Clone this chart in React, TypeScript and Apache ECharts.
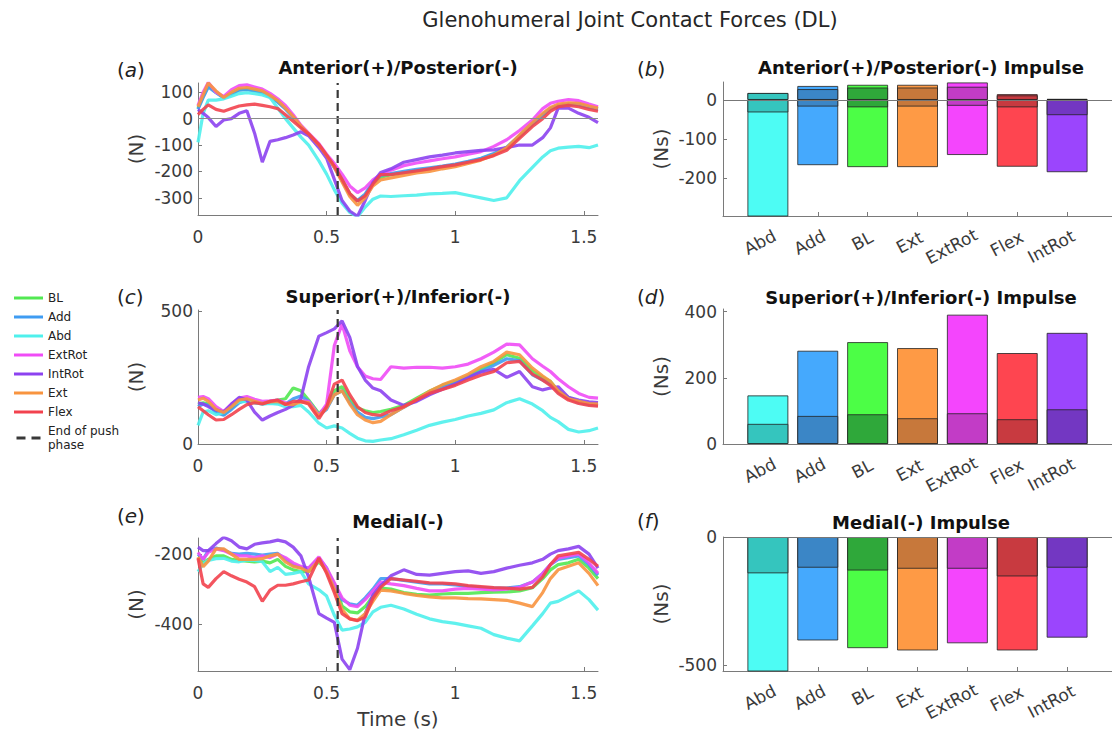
import React, { useEffect, useRef } from "react";
import * as echarts from "echarts";

// ---------- data ----------
const TIME = [0, 0.02, 0.04, 0.07, 0.1, 0.13, 0.16, 0.19, 0.22, 0.25, 0.28, 0.31, 0.34, 0.37, 0.4, 0.43, 0.47, 0.5, 0.53, 0.56, 0.59, 0.62, 0.65, 0.68, 0.71, 0.75, 0.8, 0.85, 0.9, 0.95, 1.0, 1.05, 1.1, 1.15, 1.2, 1.25, 1.3, 1.34, 1.37, 1.4, 1.44, 1.48, 1.52, 1.555];

const SERIES_NAMES = ["BL", "Add", "Abd", "ExtRot", "IntRot", "Ext", "Flex"];
const PUSH_LABEL = "End of push phase";
const PUSH_END = 0.543;

// (a) Anterior(+)/Posterior(-) force, N
const AP_BL = [40, 85, 125, 100, 80, 95, 110, 112, 108, 100, 85, 65, 40, 8, -28, -58, -100, -140, -182, -232, -285, -312, -290, -245, -222, -212, -205, -197, -190, -183, -175, -165, -152, -135, -112, -68, -22, 15, 38, 50, 56, 55, 45, 38];
const AP_ADD = [35, 80, 120, 98, 78, 92, 108, 110, 105, 98, 82, 62, 36, 5, -30, -60, -102, -142, -185, -235, -288, -310, -285, -240, -215, -208, -200, -192, -186, -180, -172, -162, -150, -132, -108, -65, -20, 15, 38, 48, 54, 52, 42, 35];
const AP_ABD = [-90, 20, 70, 70, 75, 85, 95, 98, 95, 90, 80, 40, 0, -35, -70, -100, -160, -210, -270, -320, -355, -372, -335, -305, -293, -295, -292, -290, -285, -283, -280, -290, -300, -310, -300, -235, -185, -145, -122, -112, -108, -105, -110, -100];
const AP_EXTROT = [50, 100, 137, 100, 84, 110, 125, 128, 120, 112, 96, 75, 50, 15, -25, -55, -95, -135, -170, -210, -255, -280, -262, -232, -212, -195, -178, -168, -160, -152, -145, -135, -125, -105, -80, -45, -5, 38, 58, 66, 72, 68, 55, 45];
const AP_INTROT = [35, 20, 4, -30, -5, 0, 20, 30, -55, -165, -86, -80, -72, -62, -50, -65, -110, -150, -230, -310, -350, -370, -310, -242, -204, -190, -165, -155, -145, -138, -130, -125, -120, -118, -110, -100, -100, -72, -35, 40, 40, 20, 5, -15];
const AP_EXT = [45, 90, 135, 105, 80, 100, 115, 118, 112, 105, 88, 68, 40, 8, -28, -58, -100, -140, -185, -240, -295, -328, -300, -255, -232, -225, -215, -206, -200, -190, -182, -170, -157, -138, -110, -62, -15, 20, 42, 55, 60, 58, 48, 40];
const AP_FLEX = [15, 35, 52, 35, 28, 38, 48, 52, 55, 50, 45, 38, 15, -10, -35, -58, -98, -138, -180, -230, -283, -312, -292, -248, -212, -212, -205, -198, -190, -182, -175, -165, -155, -140, -120, -75, -30, 0, 28, 45, 50, 45, 35, 28];

// (c) Superior(+)/Inferior(-) force, N
const SI_BL = [150, 155, 150, 125, 110, 135, 160, 165, 158, 155, 160, 165, 170, 210, 200, 165, 115, 140, 200, 215, 170, 135, 125, 118, 122, 130, 145, 172, 198, 220, 235, 255, 280, 305, 335, 322, 275, 250, 235, 200, 175, 160, 150, 150];
const SI_ADD = [140, 150, 145, 118, 108, 130, 155, 165, 155, 150, 155, 155, 150, 170, 180, 160, 108, 130, 185, 200, 155, 120, 100, 95, 102, 110, 138, 165, 192, 212, 228, 250, 272, 295, 320, 312, 260, 240, 225, 195, 170, 155, 148, 145];
const SI_ABD = [70, 120, 125, 110, 118, 145, 158, 160, 155, 150, 152, 150, 140, 140, 145, 120, 78, 60, 68, 60, 40, 22, 12, 10, 15, 20, 35, 52, 70, 82, 92, 105, 115, 128, 155, 170, 150, 125, 100, 84, 55, 45, 50, 60];
const SI_EXTROT = [175, 178, 170, 140, 122, 150, 172, 178, 168, 160, 162, 165, 155, 150, 162, 160, 108, 150, 370, 450, 350, 290, 255, 245, 242, 290, 285, 288, 288, 285, 290, 300, 320, 345, 375, 372, 320, 292, 272, 245, 215, 190, 175, 172];
const SI_INTROT = [155, 150, 140, 128, 120, 150, 175, 165, 120, 90, 105, 118, 130, 145, 170, 290, 405, 418, 432, 462, 400, 291, 240, 210, 200, 165, 145, 160, 185, 205, 225, 250, 270, 280, 250, 272, 215, 203, 210, 215, 175, 165, 158, 155];
const SI_EXT = [165, 172, 160, 130, 118, 140, 165, 170, 160, 152, 158, 160, 150, 148, 158, 155, 105, 135, 185, 200, 150, 110, 90, 80, 85, 110, 138, 168, 198, 222, 240, 262, 290, 310, 345, 335, 285, 255, 235, 200, 170, 160, 152, 150];
const SI_FLEX = [140, 125, 110, 90, 92, 110, 130, 148, 155, 150, 160, 165, 148, 160, 160, 150, 95, 140, 225, 240, 185, 140, 118, 110, 108, 125, 140, 165, 190, 205, 220, 240, 258, 272, 305, 310, 262, 240, 220, 190, 165, 152, 145, 142];

// (e) Medial(-) force, N
const ML_BL = [-210, -225, -215, -205, -205, -215, -218, -220, -222, -220, -225, -215, -235, -245, -250, -250, -222, -245, -285, -348, -365, -368, -350, -320, -297, -300, -310, -315, -317, -314, -312, -312, -310, -309, -308, -305, -296, -270, -245, -230, -225, -215, -240, -270];
const ML_ADD = [-200, -215, -190, -183, -188, -198, -200, -198, -200, -203, -200, -198, -215, -232, -238, -240, -212, -240, -292, -330, -342, -346, -325, -300, -270, -270, -275, -280, -285, -285, -288, -292, -295, -297, -297, -293, -280, -255, -230, -215, -210, -205, -230, -260];
const ML_ABD = [-250, -228, -218, -213, -212, -220, -222, -217, -218, -222, -250, -238, -258, -255, -250, -285, -302, -320, -375, -417, -414, -408, -395, -365, -352, -346, -357, -372, -385, -393, -398, -405, -412, -430, -440, -448, -405, -370, -340, -335, -320, -305, -330, -360];
const ML_EXTROT = [-195, -215, -195, -185, -190, -200, -205, -205, -210, -205, -210, -200, -210, -225, -235, -240, -208, -240, -282, -325, -346, -350, -330, -305, -280, -285, -290, -298, -305, -305, -300, -298, -300, -302, -300, -295, -280, -255, -230, -212, -205, -200, -225, -255];
const ML_INTROT = [-180, -190, -190, -170, -152, -162, -180, -185, -172, -168, -165, -160, -165, -180, -205, -265, -370, -383, -395, -500, -530, -469, -370, -317, -290, -262, -245, -258, -260, -255, -250, -248, -255, -250, -240, -232, -225, -215, -200, -190, -185, -178, -200, -240];
const ML_EXT = [-208, -236, -220, -185, -185, -200, -215, -215, -215, -213, -205, -200, -222, -235, -240, -250, -218, -250, -300, -358, -385, -389, -370, -335, -303, -305, -312, -318, -322, -325, -325, -327, -328, -330, -332, -340, -350, -310, -270, -245, -235, -225, -255, -290];
const ML_FLEX = [-212, -285, -295, -270, -250, -262, -272, -280, -293, -335, -303, -289, -289, -285, -279, -274, -211, -255, -310, -370, -385, -390, -380, -326, -295, -270, -274, -278, -282, -283, -285, -290, -293, -296, -297, -300, -295, -265, -230, -205, -200, -195, -215, -235];

// impulse bars, Ns
const BAR_CATS = ["Abd", "Add", "BL", "Ext", "ExtRot", "Flex", "IntRot"];
const AP_TOTAL_POS = [18, 36, 39, 39, 45, 15, 3];
const AP_TOTAL_NEG = [-320, -167, -172, -172, -141, -171, -185];
const AP_PUSH_POS = [18, 28, 32, 32, 34, 12, 2];
const AP_PUSH_NEG = [-32, -17, -19, -17, -15, -19, -39];
const SI_TOTAL = [147, 282, 308, 290, 391, 275, 336];
const SI_PUSH = [61, 85, 90, 78, 93, 75, 105];
const ML_TOTAL = [-540, -404, -434, -443, -415, -443, -393];
const ML_PUSH = [-142, -120, -131, -124, -124, -154, -120];

// tick labels
const TIME_TICKS = [0, 0.5, 1, 1.5];
const AP_TICKS = [-300, -200, -100, 0, 100];
const SI_TICKS = [0, 500];
const ML_TICKS = [-400, -200];
const AP_IMP_TICKS = [-200, -100, 0];
const SI_IMP_TICKS = [0, 200, 400];
const ML_IMP_TICKS = [-500, 0];

// ---------- styles ----------
const FONT = "DejaVu Sans";
const LINE_COLORS = ["#52e852", "#3f9cf2", "#4ff0ec", "#f04cf6", "#8c42f0", "#f8943f", "#f2424e"];
const BAR_LIGHT = ["#4dfcf4", "#45a9fd", "#4cfe46", "#fe9a45", "#f445fd", "#fe4550", "#9b45fd"];
const BAR_DARK = ["#35c5be", "#3b86c6", "#2fa83a", "#c7783b", "#c23cc6", "#c83a40", "#7337c2"];
const AXIS_COLOR = "#7a7a7a";
const LABEL_COLOR = "#3a3a3a";
const DASH_COLOR = "#383838";

function buildOption() {
  const lineSets = [
    [AP_BL, AP_ADD, AP_ABD, AP_EXTROT, AP_INTROT, AP_EXT, AP_FLEX],
    [SI_BL, SI_ADD, SI_ABD, SI_EXTROT, SI_INTROT, SI_EXT, SI_FLEX],
    [ML_BL, ML_ADD, ML_ABD, ML_EXTROT, ML_INTROT, ML_EXT, ML_FLEX],
  ];
  const lineRanges = [[-365, 135], [0, 503], [-534, -154]];
  const lineTicks = [AP_TICKS, SI_TICKS, ML_TICKS];
  const lineGrids = [{ top: 83, height: 132 }, { top: 310, height: 134 }, { top: 538, height: 133 }];

  const barRanges = [[-297, 46], [0, 408], [-523, 0]];
  const barTicks = [AP_IMP_TICKS, SI_IMP_TICKS, ML_IMP_TICKS];
  const barGrids = [{ top: 82, height: 134 }, { top: 309, height: 135 }, { top: 537, height: 134 }];

  const grid: any[] = [];
  const xAxis: any[] = [];
  const yAxis: any[] = [];
  const series: any[] = [];

  const axisLine = { show: true, onZero: false, lineStyle: { color: AXIS_COLOR, width: 1 } };
  const labelBase = { color: LABEL_COLOR, fontSize: 17, fontFamily: FONT };

  const catRich: any = {};
  BAR_CATS.forEach((c, i) => {
    catRich["c" + i] = { fontSize: 17, fontFamily: FONT, color: LABEL_COLOR, padding: [0, c.length * 6, 0, 0] };
  });

  lineGrids.forEach((g, p) => {
    grid.push({ left: 198, width: 400, top: g.top, height: g.height, containLabel: false });
    xAxis.push({
      type: "value", gridIndex: p, min: 0, max: 1.555,
      axisLine,
      axisTick: { show: true, inside: true, length: 4, customValues: TIME_TICKS, lineStyle: { color: AXIS_COLOR } },
      axisLabel: { ...labelBase, margin: 13, customValues: TIME_TICKS, formatter: (v: number) => String(v) },
      splitLine: { show: false },
      ...(p === 2
        ? { name: "Time (s)", nameLocation: "middle", nameGap: 38, nameTextStyle: { fontSize: 20, color: LABEL_COLOR, fontFamily: FONT } }
        : {}),
    });
    yAxis.push({
      type: "value", gridIndex: p, min: lineRanges[p][0], max: lineRanges[p][1],
      axisLine,
      axisTick: { show: true, inside: true, length: 4, customValues: lineTicks[p], lineStyle: { color: AXIS_COLOR } },
      axisLabel: { ...labelBase, margin: 5, customValues: lineTicks[p] },
      splitLine: { show: false },
      name: "(N)", nameLocation: "middle", nameGap: 52, nameRotate: 90,
      nameTextStyle: { fontSize: 20, color: LABEL_COLOR, fontFamily: FONT },
    });
    lineSets[p].forEach((vals, k) => {
      const s: any = {
        name: SERIES_NAMES[k], type: "line", xAxisIndex: p, yAxisIndex: p,
        data: TIME.map((t, i) => [t, vals[i]]),
        symbol: "none", showSymbol: false, silent: true,
        lineStyle: { color: LINE_COLORS[k], width: 3.2, opacity: 0.9 },
        itemStyle: { color: LINE_COLORS[k] },
        z: 3,
      };
      if (p === 0 && k === 0) {
        s.markLine = {
          silent: true, symbol: ["none", "none"], label: { show: false },
          lineStyle: { color: "#8a8a8a", width: 1, type: "solid" },
          data: [{ yAxis: 0 }],
        };
      }
      series.push(s);
    });
    series.push({
      name: PUSH_LABEL, type: "line", xAxisIndex: p, yAxisIndex: p,
      data: [[PUSH_END, lineRanges[p][0]], [PUSH_END, lineRanges[p][1]]],
      symbol: "none", silent: true,
      lineStyle: { color: DASH_COLOR, width: 2.2, type: [8, 5] },
      itemStyle: { color: DASH_COLOR },
      z: 4,
    });
  });

  barGrids.forEach((g, q) => {
    const gi = 3 + q;
    grid.push({ left: 723, width: 398, top: g.top, height: g.height, containLabel: false });
    xAxis.push({
      type: "value", gridIndex: gi, min: 0.1, max: 7.9,
      axisLine,
      axisTick: { show: true, inside: true, length: 4, customValues: [1, 2, 3, 4, 5, 6, 7], lineStyle: { color: AXIS_COLOR } },
      axisLabel: {
        ...labelBase, margin: 22, rotate: 28, align: "center",
        customValues: [1, 2, 3, 4, 5, 6, 7],
        formatter: (v: number) => {
          const i = Math.round(v) - 1;
          return BAR_CATS[i] ? `{c${i}|${BAR_CATS[i]}}` : "";
        },
        rich: catRich,
      },
      splitLine: { show: false },
    });
    yAxis.push({
      type: "value", gridIndex: gi, min: barRanges[q][0], max: barRanges[q][1],
      axisLine,
      axisTick: { show: true, inside: true, length: 4, customValues: barTicks[q], lineStyle: { color: AXIS_COLOR } },
      axisLabel: { ...labelBase, margin: 6, customValues: barTicks[q] },
      splitLine: { show: false },
      name: "(Ns)", nameLocation: "middle", nameGap: 52, nameRotate: 90,
      nameTextStyle: { fontSize: 20, color: LABEL_COLOR, fontFamily: FONT },
    });
    const layers: { vals: number[]; colors: string[]; name: string }[] =
      q === 0
        ? [
            { vals: AP_TOTAL_POS, colors: BAR_LIGHT, name: "Total impulse" },
            { vals: AP_TOTAL_NEG, colors: BAR_LIGHT, name: "Total impulse" },
            { vals: AP_PUSH_POS, colors: BAR_DARK, name: "Push phase impulse" },
            { vals: AP_PUSH_NEG, colors: BAR_DARK, name: "Push phase impulse" },
          ]
        : q === 1
        ? [
            { vals: SI_TOTAL, colors: BAR_LIGHT, name: "Total impulse" },
            { vals: SI_PUSH, colors: BAR_DARK, name: "Push phase impulse" },
          ]
        : [
            { vals: ML_TOTAL, colors: BAR_LIGHT, name: "Total impulse" },
            { vals: ML_PUSH, colors: BAR_DARK, name: "Push phase impulse" },
          ];
    layers.forEach((layer, li) => {
      const s: any = {
        name: layer.name, type: "bar", xAxisIndex: gi, yAxisIndex: gi,
        barWidth: 41, barGap: "-100%", silent: true, clip: true,
        data: layer.vals.map((v, i) => ({ value: [i + 1, v], itemStyle: { color: layer.colors[i] } })),
        itemStyle: { borderColor: "rgba(35,35,35,0.8)", borderWidth: 1 },
      };
      if (li === layers.length - 1 && q !== 1) {
        s.markLine = {
          silent: true, symbol: ["none", "none"], label: { show: false },
          lineStyle: { color: "#777", width: 1, type: "solid" },
          data: [{ yAxis: 0 }],
        };
      }
      series.push(s);
    });
  });

  const titleStyle = { fontSize: 18, fontWeight: "bold", color: "#111", fontFamily: FONT };
  const title = [
    { text: "Glenohumeral Joint Contact Forces (DL)", left: 630, top: 20, textAlign: "center", textVerticalAlign: "middle", padding: 0,
      textStyle: { fontSize: 21, fontWeight: "normal", color: "#262626", fontFamily: FONT } },
    { text: "Anterior(+)/Posterior(-)", left: 398, top: 67, textAlign: "center", textVerticalAlign: "middle", padding: 0, textStyle: titleStyle },
    { text: "Superior(+)/Inferior(-)", left: 398, top: 296, textAlign: "center", textVerticalAlign: "middle", padding: 0, textStyle: titleStyle },
    { text: "Medial(-)", left: 398, top: 521, textAlign: "center", textVerticalAlign: "middle", padding: 0, textStyle: titleStyle },
    { text: "Anterior(+)/Posterior(-) Impulse", left: 921, top: 67, textAlign: "center", textVerticalAlign: "middle", padding: 0, textStyle: titleStyle },
    { text: "Superior(+)/Inferior(-) Impulse", left: 921, top: 297, textAlign: "center", textVerticalAlign: "middle", padding: 0, textStyle: titleStyle },
    { text: "Medial(-) Impulse", left: 921, top: 522, textAlign: "center", textVerticalAlign: "middle", padding: 0, textStyle: titleStyle },
  ];

  const letters = [
    { l: "a", x: 117, y: 70 }, { l: "b", x: 637, y: 69 },
    { l: "c", x: 117, y: 297 }, { l: "d", x: 637, y: 297 },
    { l: "e", x: 117, y: 516 }, { l: "f", x: 637, y: 521 },
  ];
  const graphic = letters.map((o) => ({
    type: "text", x: o.x, y: o.y, silent: true,
    style: {
      text: `{p|(}{i|${o.l}}{p|)}`,
      fill: "#222", font: `20px '${FONT}'`, verticalAlign: "middle", align: "left",
      rich: {
        p: { fontSize: 20, fontFamily: FONT, fill: "#222" },
        i: { fontSize: 20, fontFamily: FONT, fontStyle: "italic", fill: "#222" },
      },
    },
  }));

  const legendData: any[] = SERIES_NAMES.map((n) => ({ name: n, icon: "rect" }));
  legendData.push({ name: PUSH_LABEL, icon: "path://M0,0H9V3H0Z M15,0H24V3H15Z" });

  return {
    animation: false,
    backgroundColor: "#ffffff",
    textStyle: { fontFamily: FONT },
    title,
    graphic,
    legend: {
      data: legendData,
      orient: "vertical", left: 9, top: 286,
      itemWidth: 29, itemHeight: 3, itemGap: 5,
      selectedMode: false,
      itemStyle: { borderWidth: 0 },
      formatter: (n: string) => (n === PUSH_LABEL ? "End of push\nphase" : n),
      textStyle: { fontSize: 12, color: "#222", fontFamily: FONT, lineHeight: 14 },
    },
    grid, xAxis, yAxis, series,
  };
}

export default function App() {
  const ref = useRef<HTMLDivElement>(null);
  useEffect(() => {
    if (!ref.current) return;
    const chart = echarts.init(ref.current, undefined, { renderer: "svg" });
    chart.setOption(buildOption() as any);
    return () => chart.dispose();
  }, []);
  return (
    <div
      ref={ref}
      style={{ position: "absolute", left: 0, top: 0, width: 1112, height: 731, background: "#fff" }}
    />
  );
}
